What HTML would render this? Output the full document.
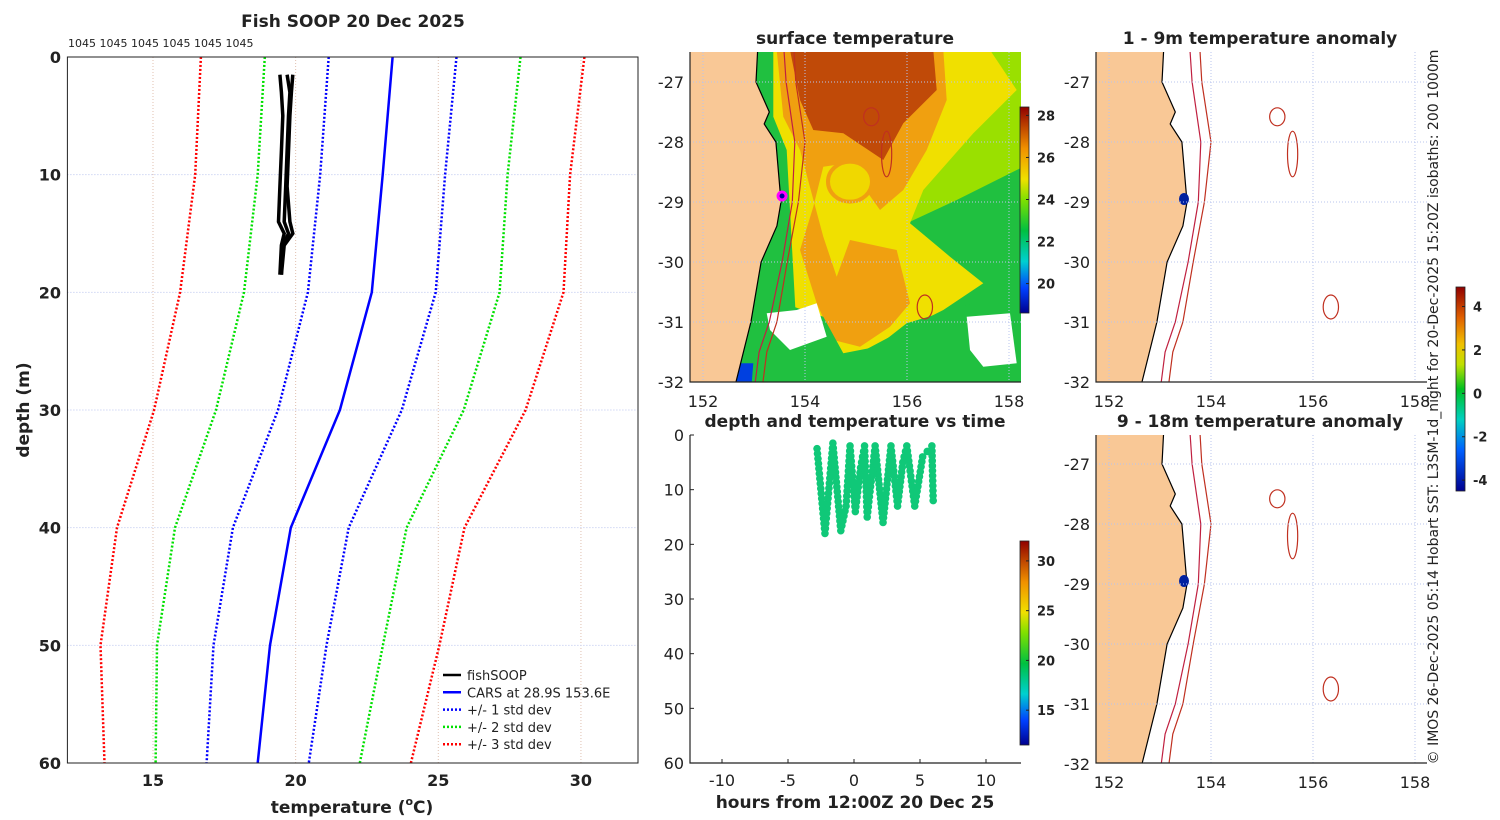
<!DOCTYPE html>
<html><head><meta charset="utf-8">
<style>
html,body{margin:0;padding:0;background:#fff;}
svg{display:block;font-family:"DejaVu Sans","Liberation Sans",sans-serif;}
</style></head>
<body>
<svg id="fig" width="1500" height="820" viewBox="0 0 1500 820" xmlns="http://www.w3.org/2000/svg">
<defs>
<linearGradient id="jetT" x1="0" y1="1" x2="0" y2="0">
<stop offset="0" stop-color="#00008f"/><stop offset="0.12" stop-color="#0040ff"/><stop offset="0.25" stop-color="#00d0d0"/><stop offset="0.4" stop-color="#00c040"/><stop offset="0.55" stop-color="#80e000"/><stop offset="0.65" stop-color="#f0e000"/><stop offset="0.8" stop-color="#f09000"/><stop offset="1" stop-color="#900000"/>
</linearGradient>
<linearGradient id="jetA" x1="0" y1="1" x2="0" y2="0">
<stop offset="0" stop-color="#00008f"/><stop offset="0.2" stop-color="#0060ff"/><stop offset="0.35" stop-color="#00d0c0"/><stop offset="0.5" stop-color="#00c020"/><stop offset="0.62" stop-color="#c0e000"/><stop offset="0.72" stop-color="#f0c000"/><stop offset="0.85" stop-color="#e06000"/><stop offset="1" stop-color="#900000"/>
</linearGradient>
<clipPath id="clipSST"><rect x="690" y="52" width="331" height="330"/></clipPath>
<clipPath id="clipA1"><rect x="1096" y="52" width="331" height="330"/></clipPath>
<clipPath id="clipA2"><rect x="1096" y="435" width="331" height="328"/></clipPath>
</defs>
<g id="root"></g>
</svg>
<script>
// ---------- data ----------
const depthLevels = [0, 10, 20, 30, 40, 50, 60];
const carsTemp = [23.4, 23.05, 22.67, 21.55, 19.83, 19.1, 18.67];
const carsStd = [2.24, 2.19, 2.24, 2.17, 2.03, 1.98, 1.79];
const tempTicks = [15, 20, 25, 30];
const depthTicks = [0, 10, 20, 30, 40, 50, 60];
const soopDepth = [1.5, 3, 5, 8, 11, 14, 15, 16, 18.5];
const soopTempA = [19.45, 19.5, 19.55, 19.5, 19.45, 19.4, 19.6, 19.5, 19.45];
const soopTempB = [19.7, 19.8, 19.75, 19.7, 19.65, 19.6, 19.75, 19.55, 19.5];
const soopTempC = [19.9, 19.85, 19.8, 19.75, 19.7, 19.8, 19.9, 19.6, 19.5];
const turnHours = [-2.8, -2.2, -1.6, -1.0, -0.6, -0.3, 0.1, 0.5, 0.8, 1.0, 1.6, 2.2, 2.8, 3.3, 3.7, 4.0, 4.6, 5.2, 5.9, 6.0];
const turnDepths = [2.5, 18, 1.5, 17.5, 13, 2, 14, 6, 2, 15, 2, 16, 2, 13, 5, 2, 13, 4, 2, 12];
const hourTicks = [-10, -5, 0, 5, 10];
const sstTicks = [20, 22, 24, 26, 28];
const tsTicks = [15, 20, 25, 30];
const anomTicks = [-4, -2, 0, 2, 4];
const lonTicks = [152, 154, 156, 158];
const latTicks = [-27, -28, -29, -30, -31, -32];
const coastLon = [151.0, 153.1, 153.04, 153.3, 153.2, 153.43, 153.53, 153.45, 153.14, 152.94, 152.5, 151.0];
const coastLat = [-26.0, -26.0, -27.0, -27.5, -27.7, -28.0, -29.0, -29.4, -30.0, -31.0, -32.5, -32.5];
const iso200Lon = [153.55, 153.63, 153.8, 153.75, 153.55, 153.3, 153.1, 152.95];
const iso1000Lon = [153.75, 153.82, 154.0, 153.87, 153.65, 153.45, 153.25, 153.1];
const isoLat = [-26.0, -27.0, -28.0, -29.0, -30.0, -31.0, -31.5, -32.5];

const NS = "http://www.w3.org/2000/svg";
const root = document.getElementById('root');
function mk(tag, attrs, parent){
  const e = document.createElementNS(NS, tag);
  for (const k in attrs) e.setAttribute(k, attrs[k]);
  (parent || root).appendChild(e);
  return e;
}
function txt(s, x, y, size, anchor, bold, parent){
  const t = mk('text', {x:x, y:y, 'font-size':size, 'text-anchor':anchor||'middle', fill:'#222'}, parent);
  if (bold) t.setAttribute('font-weight','bold');
  t.textContent = s;
  return t;
}

// ---------- left profile ----------
const L = {x0:67.4, x1:638, y0:57, y1:763, tmin:12, tmax:32, dmax:60};
const tx = t => L.x0 + (t - L.tmin) / (L.tmax - L.tmin) * (L.x1 - L.x0);
const dy = d => L.y0 + d / L.dmax * (L.y1 - L.y0);
const gL = mk('g', {});


tempTicks.forEach(t => {
  const l = mk('line', {x1:tx(t), y1:L.y0, x2:tx(t), y2:L.y1, stroke:'#e0c0b0', 'stroke-width':1, 'stroke-dasharray':'1 2'}, gL);
  
  
  const lb = txt(String(t), tx(t), 786, 16, 'middle', true, gL);
  
  
});
depthTicks.forEach(d => {
  const l = mk('line', {x1:L.x0, y1:dy(d), x2:L.x1, y2:dy(d), stroke:'#b8c4ee', 'stroke-width':1, 'stroke-dasharray':'1 2'}, gL);
  
  
  const lb = txt(String(d), 61, dy(d) + 6, 16, 'end', true, gL);
  
  
});
function profPath(temps, offset){
  return temps.map((t, i) => (i ? 'L' : 'M') + tx(t + offset * carsStd[i]).toFixed(1) + ' ' + dy(depthLevels[i]).toFixed(1)).join(' ');
}
const bands = [[3,'#ff0000','sd3'],[2,'#00e000','sd2'],[1,'#0000ff','sd1']];
bands.forEach(b => {
  [-1, 1].forEach(s => {
    const p = mk('path', {d:profPath(carsTemp, s * b[0]), fill:'none', stroke:b[1], 'stroke-width':2.5, 'stroke-dasharray':'2 2'}, gL);
    
    
  });
});
const cars = mk('path', {d:profPath(carsTemp, 0), fill:'none', stroke:'#0000ff', 'stroke-width':2.5}, gL);


[soopTempA, soopTempB, soopTempC].forEach((arr, k) => {
  const d = arr.map((t, i) => (i ? 'L' : 'M') + tx(t).toFixed(1) + ' ' + dy(soopDepth[i]).toFixed(1)).join(' ');
  const p = mk('path', {d:d, fill:'none', stroke:'#000', 'stroke-width':3.5}, gL);
  
  
});
const frL = mk('rect', {x:L.x0, y:L.y0, width:L.x1-L.x0, height:L.y1-L.y0, fill:'none', stroke:'#222', 'stroke-width':1}, gL);


const tL = txt('Fish SOOP 20 Dec 2025', 353, 27, 17, 'middle', true, gL);


const serial = txt('1045 1045 1045 1045 1045 1045', 68, 47, 11, 'start', false, gL);


const xl = mk('text', {x:352, y:813, 'font-size':17, 'font-weight':'bold', 'text-anchor':'middle', fill:'#222'}, gL);
xl.innerHTML = 'temperature (<tspan font-size="11" dy="-8">o</tspan><tspan dy="8">C)</tspan>';


const yl = txt('depth (m)', 0, 0, 17, 'middle', true, gL);
yl.setAttribute('transform', 'translate(29 410) rotate(-90)');


const legItems = [['fishSOOP','#000',''],['CARS at 28.9S 153.6E','#0000ff',''],['+/- 1 std dev','#0000ff','2 2'],['+/- 2 std dev','#00e000','2 2'],['+/- 3 std dev','#ff0000','2 2']];
const leg = mk('g', {}, gL);


legItems.forEach((it, i) => {
  const y = 675 + i * 17.3;
  const g = mk('g', {}, leg);
  
  
  mk('line', {x1:443, y1:y, x2:461, y2:y, stroke:it[1], 'stroke-width':2.5, 'stroke-dasharray':it[2]}, g);
  txt(it[0], 467, y + 5, 13, 'start', false, g);
});

// ---------- map helpers ----------
const lonX = (x0, lon) => x0 + 13 + (lon - 152) * 51;
function drawCoastIso(g, x0, latY, clip){
  const cg = mk('g', {'clip-path':'url(#' + clip + ')'}, g);
  const pts = coastLon.map((lo, i) => lonX(x0, lo).toFixed(1) + ',' + latY(coastLat[i]).toFixed(1)).join(' ');
  const land = mk('polygon', {points:pts, fill:'#f9c896', stroke:'#000', 'stroke-width':1.2}, cg);
  
  
  [[iso200Lon,'#c02040'],[iso1000Lon,'#c03020']].forEach((a, k) => {
    const p = mk('polyline', {points:a[0].map((lo, i) => lonX(x0, lo).toFixed(1) + ',' + latY(isoLat[i]).toFixed(1)).join(' '), fill:'none', stroke:a[1], 'stroke-width':1.2}, cg);
    
    
  });
  [[155.3,-27.58,0.15,0.15],[155.6,-28.2,0.1,0.38],[156.35,-30.75,0.15,0.2]].forEach(s => {
    const e = mk('ellipse', {cx:lonX(x0, s[0]), cy:latY(s[1]), rx:s[2]*51, ry:s[3]*60, fill:'none', stroke:'#c03020', 'stroke-width':1.2}, cg);
    
    
  });
  return cg;
}
function mapFrame(g, x0, y0, w, h, latY){
  lonTicks.forEach(lo => {
    const l = mk('line', {x1:lonX(x0, lo), y1:y0, x2:lonX(x0, lo), y2:y0+h, stroke:'#b8c4ee', 'stroke-width':1, 'stroke-dasharray':'1 2'}, g);
    
    
    const t = txt(String(lo), lonX(x0, lo), y0 + h + 25, 16, 'middle', false, g);
    
    
  });
  latTicks.forEach(la => {
    const y = latY(la);
    if (y < y0 + h - 5) {
      const l = mk('line', {x1:x0, y1:y, x2:x0+w, y2:y, stroke:'#b8c4ee', 'stroke-width':1, 'stroke-dasharray':'1 2'}, g);
      
      
    }
    const t = txt(String(la), x0 - 6, y + 6, 16, 'end', false, g);
    
    
  });
  const ax = mk('path', {d:'M' + x0 + ' ' + y0 + ' V' + (y0+h) + ' H' + (x0+w), fill:'none', stroke:'#222', 'stroke-width':1.2}, g);
  
  
}
function colorbar(g, x, y0, y1, grad, ticks, vmin, vmax, name){
  const cb = mk('g', {}, g);
  
  
  mk('rect', {x:x, y:y0, width:9, height:y1-y0, fill:'url(#' + grad + ')', stroke:'#222', 'stroke-width':0.8}, cb);
  ticks.forEach(v => {
    const y = y1 - (v - vmin) / (vmax - vmin) * (y1 - y0);
    mk('line', {x1:x+6, y1:y, x2:x+9, y2:y, stroke:'#222'}, cb);
    const t = txt(String(v), x + 17, y + 5, 13, 'start', true, cb);
    
    
  });
}

// ---------- SST map ----------
const latS = lat => 82 - (lat + 27) * 60;
const gS = mk('g', {});


const sc = mk('g', {'clip-path':'url(#clipSST)'}, gS);
const Z = p => p.map(q => (690 + q[0]/3).toFixed(1) + ',' + (50 + q[1]/3).toFixed(1)).join(' ');
const sstLayers = [
  ['#20c040', [[0,0],[1000,0],[1000,1000],[0,1000]]],
  ['#9ae000', [[640,0],[1000,0],[1000,350],[800,450],[650,520],[620,300]]],
  ['#f0e000', [[250,0],[900,0],[980,120],[850,250],[700,420],[660,520],[780,620],[880,700],[760,780],[600,860],[450,940],[320,850],[290,300],[250,200]]],
  ['#f0a010', [[260,0],[760,0],[770,150],[710,300],[640,420],[570,480],[470,340],[400,350],[370,470],[330,600],[380,760],[430,870],[510,890],[600,830],[660,760],[620,600],[480,570],[440,680],[400,560],[330,300],[280,200]]],
  ['#c04a08', [[300,0],[730,0],[740,120],[640,220],[580,330],[460,250],[370,240],[330,150]]],
  ['#20c040', [[280,760],[400,800],[460,910],[560,890],[650,820],[850,760],[1000,790],[1000,1000],[280,1000]]],
  ['#20c040', [[250,440],[290,430],[300,700],[290,1000],[180,1000],[220,700]]],
  ['#ffffff', [[230,790],[320,780],[380,760],[410,860],[300,900],[240,840]]],
  ['#ffffff', [[830,800],[960,790],[980,940],[880,950],[840,900]]],
  ['#0040e0', [[150,940],[190,940],[185,1000],[120,1000]]]
];
sstLayers.forEach(Lr => {
  const p = mk('polygon', {points:Z(Lr[1]), fill:Lr[0]}, sc);
  
  
});
const eddy = mk('ellipse', {cx:690+480/3, cy:50+395/3, rx:22, ry:20, fill:'#f0d800', stroke:'#f0a010', 'stroke-width':4}, sc);


drawCoastIso(gS, 690, latS, 'clipSST');
const pos = mk('circle', {cx:lonX(690, 153.55), cy:latS(-28.9), r:4, fill:'#0000a0', stroke:'#ff00ff', 'stroke-width':3}, gS);


mapFrame(gS, 690, 52, 331, 330, latS);
colorbar(gS, 1020, 107, 313, 'jetT', sstTicks, 18.6, 28.4, 'sst-colorbar');
const tS = txt('surface temperature', 855, 44, 17, 'middle', true, gS);



// ---------- time series ----------
const gT = mk('g', {});


const hx = h => 854 + h * 13.2;
const tdy = d => 435 + d * 5.467;
for (let i = 0; i < turnHours.length - 1; i++) {
  const n = Math.max(2, Math.round(Math.abs(turnDepths[i+1] - turnDepths[i]) / 0.9));
  for (let k = 0; k < n; k++) {
    const f = k / n;
    const c = mk('circle', {cx:hx(turnHours[i] + f * (turnHours[i+1] - turnHours[i])), cy:tdy(turnDepths[i] + f * (turnDepths[i+1] - turnDepths[i])), r:3.8, fill:'#10c878'}, gT);
    
    
  }
}
const lastC = mk('circle', {cx:hx(turnHours[turnHours.length-1]), cy:tdy(turnDepths[turnDepths.length-1]), r:3.8, fill:'#10c878'}, gT);


hourTicks.forEach(h => {
  const t = txt(String(h), hx(h), 786, 16, 'middle', false, gT);
  
  
  mk('line', {x1:hx(h), y1:763, x2:hx(h), y2:759, stroke:'#222'}, gT);
});
depthTicks.forEach(d => {
  const t = txt(String(d), 684, tdy(d) + 6, 16, 'end', false, gT);
  
  
  mk('line', {x1:690, y1:tdy(d), x2:694, y2:tdy(d), stroke:'#222'}, gT);
});
const axT = mk('path', {d:'M690 435 V763 H1021', fill:'none', stroke:'#222', 'stroke-width':1.2}, gT);


colorbar(gT, 1020, 541, 745, 'jetT', tsTicks, 11.5, 32, 'ts-colorbar');
const tT = txt('depth and temperature vs time', 855, 427, 17, 'middle', true, gT);


const xT = txt('hours from 12:00Z 20 Dec 25', 855, 808, 17, 'middle', true, gT);



// ---------- anomaly maps ----------
[[52, 82, 330, 'clipA1', 'anomaly-map-1-9m', '1 - 9m temperature anomaly', 44], [435, 464, 328, 'clipA2', 'anomaly-map-9-18m', '9 - 18m temperature anomaly', 427]].forEach(m => {
  const g = mk('g', {});
  
  
  const latY = lat => m[1] - (lat + 27) * 60;
  drawCoastIso(g, 1096, latY, m[3]);
  const dot = mk('ellipse', {cx:1184, cy:latY(-28.95), rx:5, ry:6, fill:'#0020a0'}, g);
  
  
  mapFrame(g, 1096, m[0], 331, m[2], latY);
  const t = txt(m[5], 1260, m[6], 17, 'middle', true, g);
  
  
});
const gA = mk('g', {});


colorbar(gA, 1456, 287, 491, 'jetA', anomTicks, -4.5, 4.9, 'anomaly-colorbar');
const cr = txt('© IMOS 26-Dec-2025 05:14 Hobart SST: L3SM-1d_night for 20-Dec-2025 15:20Z isobaths: 200  1000m', 0, 0, 14, 'middle', false, gA);
cr.setAttribute('transform', 'translate(1438 407) rotate(-90)');


</script>
</body></html>
